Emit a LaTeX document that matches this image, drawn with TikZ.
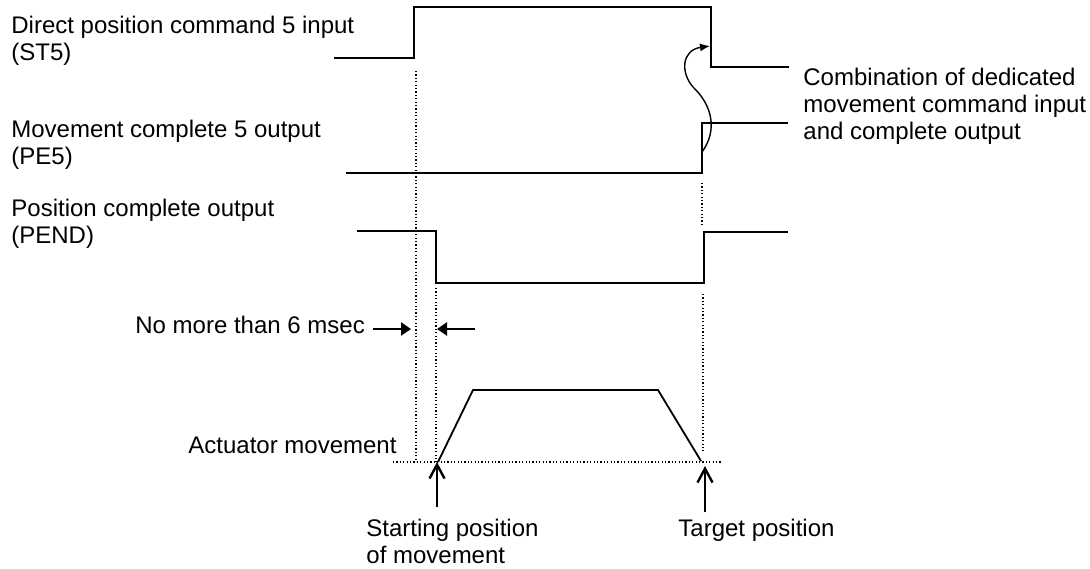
\documentclass[tikz,border=0pt]{standalone}
\usepackage{fontspec}
\setmainfont{Liberation Sans}
\usetikzlibrary{arrows.meta}
\tikzset{
  label/.style={font=\fontsize{12}{13.5}\selectfont, align=left, inner sep=0pt, anchor=base west},
  signal/.style={draw=black, line width=0.9pt, line join=miter},
  guide/.style={draw=black, line width=0.6pt, dash pattern=on 0.6pt off 1.1pt},
  span/.style={-{Triangle[length=5pt,width=6.5pt]}, line width=1.3pt},
  marker/.style={-{Straight Barb[length=7pt,width=7.5pt]}, line width=1.2pt},
  link/.style={-{Latex[length=5pt,width=4pt]}, line width=0.7pt}
}
\begin{document}
\begin{tikzpicture}[x=0.5pt,y=-0.5pt]
\useasboundingbox (0,0) rectangle (1090,568);
\node[label] (st5) at (11,60) {Direct position command 5 input\\(ST5)};
\node[label] (pe5) at (11,164) {Movement complete 5 output\\(PE5)};
\node[label] (pend) at (11,243) {Position complete output\\(PEND)};
\node[label] (combo) at (803,139) {Combination of dedicated\\movement command input\\and complete output};
\node[label] (limit) at (135,333) {No more than 6 msec};
\node[label] (move) at (188,453) {Actuator movement};
\node[label] (start) at (366,563) {Starting position\\of movement};
\node[label] (target) at (678,536) {Target position};
\coordinate (pe5rise) at (702,152);
\coordinate (st5fall) at (710,46);
\coordinate (gapa) at (373,329);
\coordinate (gapb) at (411,329);
\coordinate (gapc) at (475,329);
\coordinate (gapd) at (437,329);
\coordinate (startlow) at (437,507);
\coordinate (startpt) at (437,462);
\coordinate (targetlow) at (705,512);
\coordinate (targetpt) at (705,466);
\draw[signal] (334,58) -- (414,58) -- (414,7) -- (711,7) -- (711,67) -- (789,67);
\draw[signal] (346,173) -- (702,173) -- (702,123) -- (788,123);
\draw[signal] (357,231) -- (436,231) -- (436,283) -- (704,283) -- (704,232) -- (788,232);
\draw[signal] (438,462) -- (473,390) -- (658,390) -- (701,461);
\draw[guide] (416,71) -- (416,462);
\draw[guide] (436,288) -- (436,462);
\draw[guide] (702,183) -- (702,227);
\draw[guide] (703,294) -- (703,451);
\draw[guide] (393,462) -- (722,462);
\draw[link] (pe5rise) .. controls (718,130) and (712,105) .. (693,87) .. controls (680,72) and (682,50) .. (st5fall);
\draw[span] (gapa) -- (gapb);
\draw[span] (gapc) -- (gapd);
\draw[marker] (startlow) -- (startpt);
\draw[marker] (targetlow) -- (targetpt);
\end{tikzpicture}
\end{document}
